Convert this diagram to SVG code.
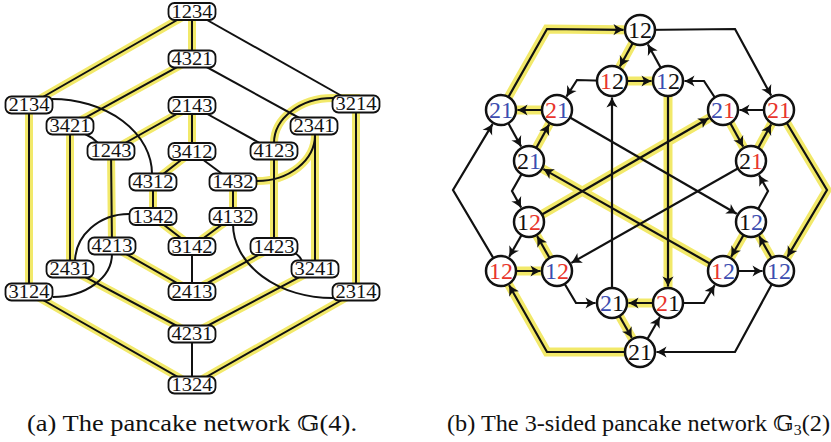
<svg xmlns="http://www.w3.org/2000/svg" width="831" height="442" viewBox="0 0 831 442">
<style>
.hl{fill:none;stroke:#f2e96a;stroke-width:8;stroke-linejoin:miter}
.hlb{fill:none;stroke:#f2e96a;stroke-width:9;stroke-linejoin:miter}
.ln{fill:none;stroke:#111;stroke-width:2}
.ar{fill:none;stroke:#111;stroke-width:2.2;marker-end:url(#ah)}
.bx rect{fill:#fff;stroke:#111;stroke-width:1.8}
.bx text{font-family:"Liberation Serif","DejaVu Serif",serif;font-size:19px;text-anchor:middle;fill:#111}
.cn circle{fill:#fff;stroke:#111;stroke-width:2.5}
.cn text{font-family:"Liberation Serif","DejaVu Serif",serif;font-size:24px;text-anchor:middle;fill:#111}
.cn .r{fill:#e8352b}
.cn .b{fill:#3c4db0}
.cap{font-family:"Liberation Serif","DejaVu Serif",serif;font-size:23px;fill:#111}
</style>
<defs>
<marker id="ah" viewBox="-12 -7 14 14" refX="0" refY="0" markerWidth="14" markerHeight="14" orient="auto" markerUnits="userSpaceOnUse">
<path d="M0.5,0 C-3,-1.3 -7,-3.6 -10,-5.6 L-7.5,0 L-10,5.6 C-7,3.6 -3,1.3 0.5,0 Z" fill="#111"/>
</marker>
</defs>

<!-- (a) connectors -->
<g id="connectors-a">
<path class="hl" d="M192,11.5 L29,105 L29,292 L192,385 L356,292 L356,98 L333,98 A59,45 0 0 0 274,143 L274,246.5 L192,291.5 L112,246 L111,151 L192,105.5 L192,151.5 L153,182 L153,216.5 L192,246.5 L233,216.5 L233,181 L257,181 A58,46 0 0 0 315,135 L315,269 L192,334 L70,269 L70,126 L192,59 Z"/>
<path class="ln" d="M192,11.5 L29,105 L29,292 L192,385 L356,292 L356,98 L333,98 A59,45 0 0 0 274,143 L274,246.5 L192,291.5 L112,246 L111,151 L192,105.5 L192,151.5 L153,182 L153,216.5 L192,246.5 L233,216.5 L233,181 L257,181 A58,46 0 0 0 315,135 L315,269 L192,334 L70,269 L70,126 L192,59 Z"/>
<path class="ln" d="M192,11.5 L356,104"/>
<path class="ln" d="M192,59 L314,126"/>
<path class="ln" d="M192,105.5 L274,151"/>
<path class="ln" d="M192,151.5 L233,182"/>
<path class="ln" d="M192,291.5 L192,246.5"/>
<path class="ln" d="M192,334 L192,385"/>
<path class="ln" d="M85,134 Q92,137 98,143"/>
<path class="ln" d="M292,252 Q299,254 302,261"/>
<path class="ln" d="M52,99 A100,75 0 0 1 152,174"/>
<path class="ln" d="M233,224 A100,74 0 0 0 333,298"/>
<path class="ln" d="M129,214 A54,48 0 0 0 75,262"/>
<path class="ln" d="M112,254 A59,43 0 0 1 53,297"/>
</g>

<!-- (a) nodes -->
<g class="bx">
<g id="a1234" transform="translate(192,11.5)"><rect x="-23.5" y="-8.5" width="47" height="17" rx="6"/><text y="6.3" textLength="41" lengthAdjust="spacingAndGlyphs">1234</text></g>
<g id="a4321" transform="translate(192,59)"><rect x="-23.5" y="-8.5" width="47" height="17" rx="6"/><text y="6.3" textLength="41" lengthAdjust="spacingAndGlyphs">4321</text></g>
<g id="a2134" transform="translate(29,105)"><rect x="-23.5" y="-8.5" width="47" height="17" rx="6"/><text y="6.3" textLength="41" lengthAdjust="spacingAndGlyphs">2134</text></g>
<g id="a3214" transform="translate(356,104)"><rect x="-23.5" y="-8.5" width="47" height="17" rx="6"/><text y="6.3" textLength="41" lengthAdjust="spacingAndGlyphs">3214</text></g>
<g id="a3421" transform="translate(70,126)"><rect x="-23.5" y="-8.5" width="47" height="17" rx="6"/><text y="6.3" textLength="41" lengthAdjust="spacingAndGlyphs">3421</text></g>
<g id="a2341" transform="translate(314,126)"><rect x="-23.5" y="-8.5" width="47" height="17" rx="6"/><text y="6.3" textLength="41" lengthAdjust="spacingAndGlyphs">2341</text></g>
<g id="a2143" transform="translate(192,105.5)"><rect x="-23.5" y="-8.5" width="47" height="17" rx="6"/><text y="6.3" textLength="41" lengthAdjust="spacingAndGlyphs">2143</text></g>
<g id="a1243" transform="translate(111,151)"><rect x="-23.5" y="-8.5" width="47" height="17" rx="6"/><text y="6.3" textLength="41" lengthAdjust="spacingAndGlyphs">1243</text></g>
<g id="a4123" transform="translate(274,151)"><rect x="-23.5" y="-8.5" width="47" height="17" rx="6"/><text y="6.3" textLength="41" lengthAdjust="spacingAndGlyphs">4123</text></g>
<g id="a3412" transform="translate(192,151.5)"><rect x="-23.5" y="-8.5" width="47" height="17" rx="6"/><text y="6.3" textLength="41" lengthAdjust="spacingAndGlyphs">3412</text></g>
<g id="a4312" transform="translate(153,182)"><rect x="-23.5" y="-8.5" width="47" height="17" rx="6"/><text y="6.3" textLength="41" lengthAdjust="spacingAndGlyphs">4312</text></g>
<g id="a1432" transform="translate(233,182)"><rect x="-23.5" y="-8.5" width="47" height="17" rx="6"/><text y="6.3" textLength="41" lengthAdjust="spacingAndGlyphs">1432</text></g>
<g id="a1342" transform="translate(153,216.5)"><rect x="-23.5" y="-8.5" width="47" height="17" rx="6"/><text y="6.3" textLength="41" lengthAdjust="spacingAndGlyphs">1342</text></g>
<g id="a4132" transform="translate(233,216.5)"><rect x="-23.5" y="-8.5" width="47" height="17" rx="6"/><text y="6.3" textLength="41" lengthAdjust="spacingAndGlyphs">4132</text></g>
<g id="a3142" transform="translate(192,246.5)"><rect x="-23.5" y="-8.5" width="47" height="17" rx="6"/><text y="6.3" textLength="41" lengthAdjust="spacingAndGlyphs">3142</text></g>
<g id="a1423" transform="translate(274,246.5)"><rect x="-23.5" y="-8.5" width="47" height="17" rx="6"/><text y="6.3" textLength="41" lengthAdjust="spacingAndGlyphs">1423</text></g>
<g id="a4213" transform="translate(112,246)"><rect x="-23.5" y="-8.5" width="47" height="17" rx="6"/><text y="6.3" textLength="41" lengthAdjust="spacingAndGlyphs">4213</text></g>
<g id="a2431" transform="translate(70,269)"><rect x="-23.5" y="-8.5" width="47" height="17" rx="6"/><text y="6.3" textLength="41" lengthAdjust="spacingAndGlyphs">2431</text></g>
<g id="a3241" transform="translate(315,269)"><rect x="-23.5" y="-8.5" width="47" height="17" rx="6"/><text y="6.3" textLength="41" lengthAdjust="spacingAndGlyphs">3241</text></g>
<g id="a3124" transform="translate(29,292)"><rect x="-23.5" y="-8.5" width="47" height="17" rx="6"/><text y="6.3" textLength="41" lengthAdjust="spacingAndGlyphs">3124</text></g>
<g id="a2314" transform="translate(356,292)"><rect x="-23.5" y="-8.5" width="47" height="17" rx="6"/><text y="6.3" textLength="41" lengthAdjust="spacingAndGlyphs">2314</text></g>
<g id="a2413" transform="translate(192,291.5)"><rect x="-23.5" y="-8.5" width="47" height="17" rx="6"/><text y="6.3" textLength="41" lengthAdjust="spacingAndGlyphs">2413</text></g>
<g id="a4231" transform="translate(192,334)"><rect x="-23.5" y="-8.5" width="47" height="17" rx="6"/><text y="6.3" textLength="41" lengthAdjust="spacingAndGlyphs">4231</text></g>
<g id="a1324" transform="translate(192,385)"><rect x="-23.5" y="-8.5" width="47" height="17" rx="6"/><text y="6.3" textLength="41" lengthAdjust="spacingAndGlyphs">1324</text></g>
</g>

<!-- (b) connectors -->
<g id="connectors-b">
<path class="hlb" d="M640,30 L612,81 L668,81 L668,303 L612,303 L640,352 L547,352 L501,271 L557,271 L529,222 L723,110 L751,161 L779,110 L827,190 L779,271 L751,222 L723,271 L529,161 L557,110 L501,110 L547,29 Z"/>
<path class="ar" d="M501,110 L547,29 L623.5,29.8"/>
<path class="ar" d="M640,30 L619.9,66.5"/>
<path class="ar" d="M612,81 L577,80 L566.5,96.5"/>
<path class="ar" d="M612,81 L651.5,81"/>
<path class="ar" d="M557,110 L517.5,110"/>
<path class="ar" d="M501,110 L521.1,146.5"/>
<path class="ar" d="M529,161 L549.1,124.5"/>
<path class="ar" d="M529,161 L512,191 L521.1,207.5"/>
<path class="ar" d="M501,271 L453,190 L492.5,124.1"/>
<path class="ar" d="M529,222 L509.2,256.7"/>
<path class="ar" d="M557,271 L537.2,236.3"/>
<path class="ar" d="M501,271 L540.5,271"/>
<path class="ar" d="M557,271 L576,303 L595.5,303"/>
<path class="ar" d="M612,303 L631.8,337.7"/>
<path class="ar" d="M640,352 L547,352 L509.1,285.3"/>
<path class="ar" d="M668,303 L628.5,303"/>
<path class="ar" d="M640,352 L659.8,317.3"/>
<path class="ar" d="M668,303 L704,303 L714.6,285.2"/>
<path class="ar" d="M723,271 L762.5,271"/>
<path class="ar" d="M779,271 L735,352 L656.5,352"/>
<path class="ar" d="M751,222 L731.2,256.7"/>
<path class="ar" d="M779,271 L759.2,236.3"/>
<path class="ar" d="M779,110 L827,190 L787.4,256.8"/>
<path class="ar" d="M751,222 L768,191 L759.1,175.4"/>
<path class="ar" d="M751,161 L771.1,124.5"/>
<path class="ar" d="M723,110 L743.1,146.5"/>
<path class="ar" d="M779,110 L739.5,110"/>
<path class="ar" d="M723,110 L704,81 L684.5,81"/>
<path class="ar" d="M668,81 L647.9,44.5"/>
<path class="ar" d="M640,30 L735,29 L771.1,95.5"/>
<path class="ar" d="M612,303 L612,97.5"/>
<path class="ar" d="M668,81 L668,286.5"/>
<path class="ar" d="M557,110 L736.7,213.75"/>
<path class="ar" d="M723,271 L543.4,169.1"/>
<path class="ar" d="M529,222 L708.7,118.25"/>
<path class="ar" d="M751,161 L571.4,262.9"/>
</g>

<!-- (b) nodes -->
<g class="cn">
<g id="bT" transform="translate(640,30)"><circle r="15"/><text y="8">12</text></g>
<g id="bA1" transform="translate(612,81)"><circle r="15"/><text y="8"><tspan class="r">1</tspan>2</text></g>
<g id="bA2" transform="translate(668,81)"><circle r="15"/><text y="8"><tspan class="b">1</tspan>2</text></g>
<g id="bL1" transform="translate(501,110)"><circle r="15"/><text y="8" class="b">21</text></g>
<g id="bL2" transform="translate(557,110)"><circle r="15"/><text y="8"><tspan class="r">2</tspan><tspan class="b">1</tspan></text></g>
<g id="bR2" transform="translate(723,110)"><circle r="15"/><text y="8"><tspan class="b">2</tspan><tspan class="r">1</tspan></text></g>
<g id="bR1" transform="translate(779,110)"><circle r="15"/><text y="8" class="r">21</text></g>
<g id="bL3" transform="translate(529,161)"><circle r="15"/><text y="8">2<tspan class="b">1</tspan></text></g>
<g id="bR3" transform="translate(751,161)"><circle r="15"/><text y="8">2<tspan class="r">1</tspan></text></g>
<g id="bL4" transform="translate(529,222)"><circle r="15"/><text y="8">1<tspan class="r">2</tspan></text></g>
<g id="bR4" transform="translate(751,222)"><circle r="15"/><text y="8">1<tspan class="b">2</tspan></text></g>
<g id="bL5" transform="translate(501,271)"><circle r="15"/><text y="8" class="r">12</text></g>
<g id="bL6" transform="translate(557,271)"><circle r="15"/><text y="8"><tspan class="b">1</tspan><tspan class="r">2</tspan></text></g>
<g id="bR6" transform="translate(723,271)"><circle r="15"/><text y="8"><tspan class="r">1</tspan><tspan class="b">2</tspan></text></g>
<g id="bR5" transform="translate(779,271)"><circle r="15"/><text y="8" class="b">12</text></g>
<g id="bB1" transform="translate(612,303)"><circle r="15"/><text y="8"><tspan class="b">2</tspan>1</text></g>
<g id="bB2" transform="translate(668,303)"><circle r="15"/><text y="8"><tspan class="r">2</tspan>1</text></g>
<g id="bB" transform="translate(640,352)"><circle r="15"/><text y="8">21</text></g>
</g>

<g id="captions">
<text class="cap" x="27" y="431" textLength="330" lengthAdjust="spacingAndGlyphs">(a) The pancake network 𝔾(4).</text>
<text class="cap" x="447" y="431" textLength="383" lengthAdjust="spacingAndGlyphs">(b) The 3-sided pancake network 𝔾<tspan font-size="15" dy="4">3</tspan><tspan dy="-4">(2)</tspan></text>
</g>
</svg>
